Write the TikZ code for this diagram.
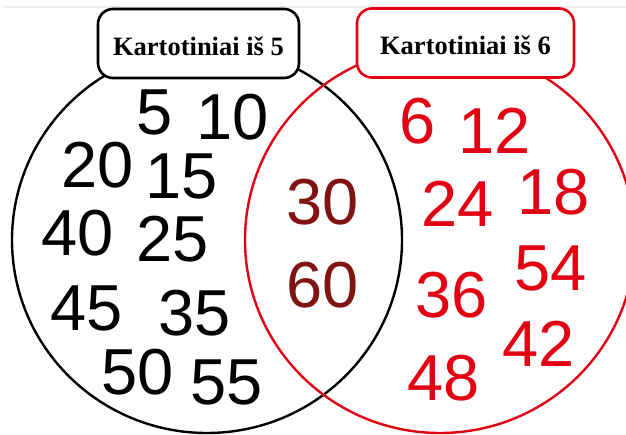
\documentclass[tikz,border=0pt]{standalone}
\usepackage{fontspec}
\setmainfont{Liberation Serif}
\newfontfamily\numfont{Liberation Sans}
\definecolor{vred}{RGB}{226,0,18}
\definecolor{vdark}{RGB}{128,20,18}
\definecolor{topline}{RGB}{236,236,236}
\tikzset{
  setline/.style={line width=2.4pt},
  setbox/.style={draw, line width=2.6pt, rounded corners=15pt, fill=white,
     minimum width=#1, minimum height=69pt, inner sep=0pt,
     text height=24pt, text depth=0pt,
     font=\fontsize{26.5}{26.5}\selectfont\bfseries},
  num/.style={inner sep=0pt, font=\numfont\fontsize{65}{65}\selectfont}
}
\begin{document}
\begin{tikzpicture}[x=1pt,y=-1pt]
\useasboundingbox (0,0) rectangle (626,435);
\clip (0,0) rectangle (626,435);
\fill[white] (0,0) rectangle (626,435);
\draw[topline, line width=1.5pt] (4,7) -- (626,7);
% sets
\draw[setline, black] (207,240) ellipse [x radius=195, y radius=193];
\draw[setline, vred] (440,240) ellipse [x radius=195, y radius=193];
% headings
\node[setbox=201pt, draw=black] (h5) at (198.5,43.5) {Kartotiniai iš 5};
\node[setbox=217pt, draw=vred] (h6) at (465.5,43) {Kartotiniai iš 6};
% multiples of 5
\node[num] (n5)  at (155,112) {5};
\node[num] (n10) at (233,117) {10};
\node[num] (n20) at (98,165) {20};
\node[num] (n15) at (182,176) {15};
\node[num] (n40) at (78,233) {40};
\node[num] (n25) at (173,239) {25};
\node[num] (n45) at (87,308) {45};
\node[num] (n35) at (195,313) {35};
\node[num] (n50) at (138,372) {50};
\node[num] (n55) at (227,382) {55};
% common
\node[num, text=vdark] (n30) at (323,202) {30};
\node[num, text=vdark] (n60) at (323,285) {60};
% multiples of 6
\node[num, text=vred] (n6)  at (418,121) {6};
\node[num, text=vred] (n12) at (495,131) {12};
\node[num, text=vred] (n24) at (458,204) {24};
\node[num, text=vred] (n18) at (554,192) {18};
\node[num, text=vred] (n54) at (551,268) {54};
\node[num, text=vred] (n36) at (452,295) {36};
\node[num, text=vred] (n42) at (539,344) {42};
\node[num, text=vred] (n48) at (444,378) {48};
\end{tikzpicture}
\end{document}
